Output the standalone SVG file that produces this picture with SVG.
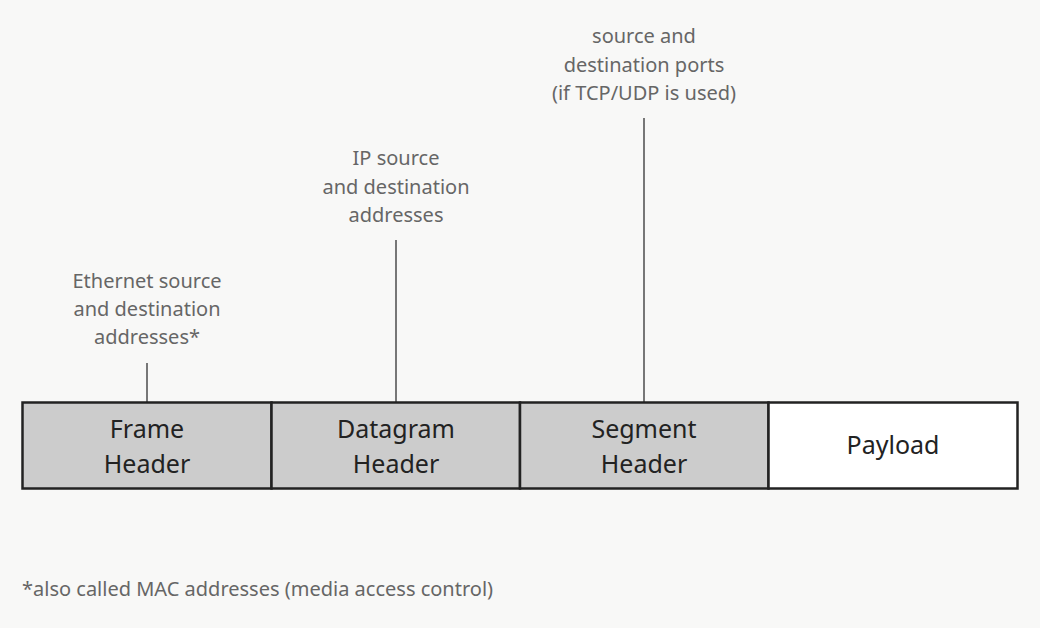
<svg xmlns="http://www.w3.org/2000/svg" width="1040" height="628" viewBox="0 0 1040 628">
<style>
.box{stroke:#222;stroke-width:2.5}
.h{fill:#ccc}
.p{fill:#fff}
.t{font-family:"Noto Sans","Liberation Sans",sans-serif;font-size:25px;fill:#222;text-anchor:middle}
.l{font-family:"Noto Sans","Liberation Sans",sans-serif;font-size:20px;fill:#666;text-anchor:middle}
.c{stroke:#777;stroke-width:2}
</style>
<rect width="1040" height="628" fill="#f8f8f7"/>
<g id="connectors">
<line class="c" x1="147" y1="363" x2="147" y2="402"/>
<line class="c" x1="396" y1="240" x2="396" y2="402"/>
<line class="c" x1="644" y1="118" x2="644" y2="402"/>
</g>
<g id="frame"><rect class="box h" x="22.5" y="402.5" width="249" height="86"/><text class="t" x="147" y="438">Frame</text><text class="t" x="147" y="473">Header</text></g>
<g id="datagram"><rect class="box h" x="271.5" y="402.5" width="248.5" height="86"/><text class="t" x="396" y="438">Datagram</text><text class="t" x="396" y="473">Header</text></g>
<g id="segment"><rect class="box h" x="520" y="402.5" width="248.5" height="86"/><text class="t" x="644" y="438">Segment</text><text class="t" x="644" y="473">Header</text></g>
<g id="payload"><rect class="box p" x="768.5" y="402.5" width="249" height="86"/><text class="t" x="893" y="454">Payload</text></g>
<g id="label-eth"><text class="l" x="147" y="288">Ethernet source</text><text class="l" x="147" y="316">and destination</text><text class="l" x="147" y="344">addresses*</text></g>
<g id="label-ip"><text class="l" x="396" y="165">IP source</text><text class="l" x="396" y="194">and destination</text><text class="l" x="396" y="222">addresses</text></g>
<g id="label-port"><text class="l" x="644" y="43">source and</text><text class="l" x="644" y="72">destination ports</text><text class="l" x="644" y="100">(if TCP/UDP is used)</text></g>
<g id="footnote"><text class="l" x="22" y="596" style="text-anchor:start">*also called MAC addresses (media access control)</text></g>
</svg>
